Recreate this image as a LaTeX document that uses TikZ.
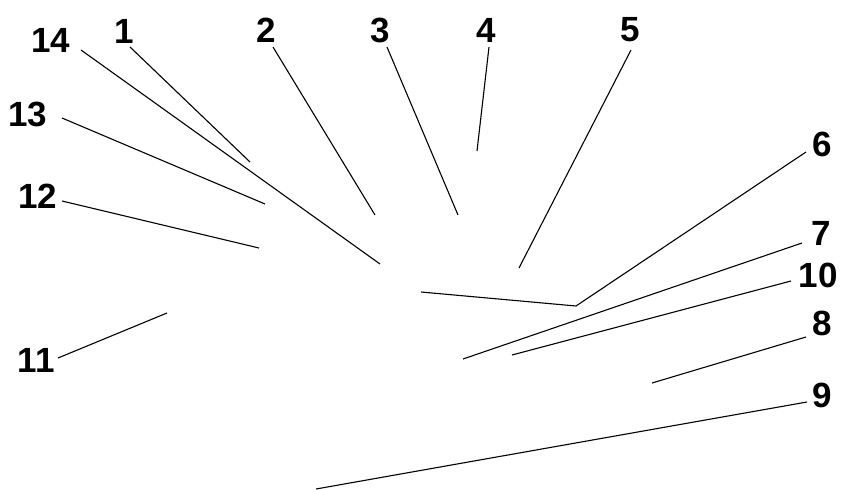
\documentclass[tikz,border=0pt]{standalone}
\usepackage{fontspec}
\setmainfont{Liberation Sans}
\begin{document}
\begin{tikzpicture}[x=1pt,y=-1pt,
  lbl/.style={font=\fontsize{35}{35}\selectfont\bfseries, inner sep=0pt, anchor=center},
  leader/.style={line width=1.1pt, black}]
\useasboundingbox[fill=white] (0,0) rectangle (841,490);
% labels
\node[lbl] (l1)  at (124,31) {1};
\node[lbl] (l2)  at (266,30) {2};
\node[lbl] (l3)  at (380,30) {3};
\node[lbl] (l4)  at (486,30) {4};
\node[lbl] (l5)  at (630,30) {5};
\node[lbl] (l6)  at (822,144) {6};
\node[lbl] (l7)  at (821,233) {7};
\node[lbl] (l10) at (818,275) {10};
\node[lbl] (l8)  at (822,323) {8};
\node[lbl] (l9)  at (822,395) {9};
\node[lbl] (l11) at (36,360) {11};
\node[lbl] (l12) at (38,196) {12};
\node[lbl] (l13) at (28,114) {13};
\node[lbl] (l14) at (51,40) {14};
% leader end points
\coordinate (s1) at (130,47);   \coordinate (e1) at (250,162);
\coordinate (s2) at (273,47);   \coordinate (e2) at (375,215);
\coordinate (s3) at (387,47);   \coordinate (e3) at (458,215);
\coordinate (s4) at (489,47);   \coordinate (e4) at (477,151);
\coordinate (s5) at (631,50);   \coordinate (e5) at (519,268);
\coordinate (s6) at (806,152);  \coordinate (k6) at (576,306); \coordinate (e6) at (421,292);
\coordinate (s7) at (802,243);  \coordinate (e7) at (463,359);
\coordinate (s10) at (791,281); \coordinate (e10) at (512,355);
\coordinate (s8) at (806,337);  \coordinate (e8) at (652,383);
\coordinate (s9) at (807,402);  \coordinate (e9) at (316,489);
\coordinate (s11) at (58,358);  \coordinate (e11) at (167,313);
\coordinate (s12) at (62,201);  \coordinate (e12) at (259,248);
\coordinate (s13) at (62,118);  \coordinate (e13) at (265,204);
\coordinate (s14) at (81,50);   \coordinate (e14) at (380,264);
% leaders
\draw[leader] (s1) -- (e1);
\draw[leader] (s2) -- (e2);
\draw[leader] (s3) -- (e3);
\draw[leader] (s4) -- (e4);
\draw[leader] (s5) -- (e5);
\draw[leader] (s6) -- (k6) -- (e6);
\draw[leader] (s7) -- (e7);
\draw[leader] (s10) -- (e10);
\draw[leader] (s8) -- (e8);
\draw[leader] (s9) -- (e9);
\draw[leader] (s11) -- (e11);
\draw[leader] (s12) -- (e12);
\draw[leader] (s13) -- (e13);
\draw[leader] (s14) -- (e14);
\end{tikzpicture}
\end{document}
